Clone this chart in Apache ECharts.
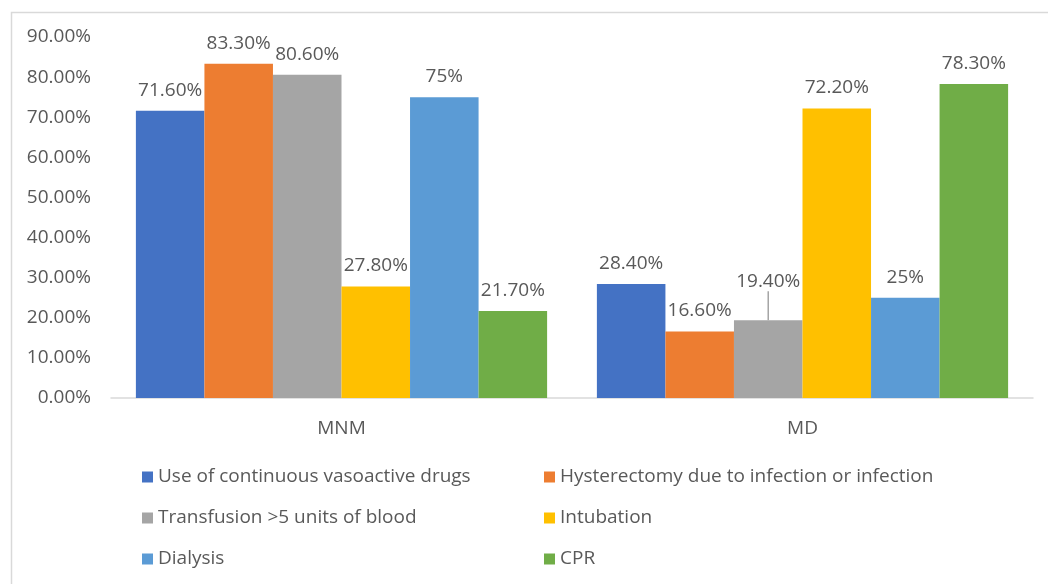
<!DOCTYPE html>
<html>
<head>
<meta charset="utf-8">
<script src="https://cdn.jsdelivr.net/npm/echarts@6/dist/echarts.min.js"></script>
<style>
  html, body { margin: 0; padding: 0; background: #ffffff; }
  #chart { width: 1048px; height: 584px; }
</style>
</head>
<body>
<div id="chart"></div>
<script>
// Groups along the x axis
const categories = ['MNM', 'MD'];

// Criteria and their shares (%) in each group
const seriesNames = [
  'Use of continuous vasoactive drugs',
  'Hysterectomy due to infection or infection',
  'Transfusion >5 units of blood',
  'Intubation',
  'Dialysis',
  'CPR'
];
const vasoactive   = [71.6, 28.4];
const hysterectomy = [83.3, 16.6];
const transfusion  = [80.6, 19.4];
const intubation   = [27.8, 72.2];
const dialysis     = [75, 25];
const cpr          = [21.7, 78.3];

// Decimal places shown in each series' value labels
const labelDecimals = [2, 2, 2, 2, 0, 2];

// Value axis ticks
const yMin = 0;
const yMax = 90;
const yStep = 10;

const seriesValues = [vasoactive, hysterectomy, transfusion, intubation, dialysis, cpr];
const colors = ['#4472C4', '#ED7D31', '#A5A5A5', '#FFC000', '#5B9BD5', '#70AD47'];
const fontFamily = '"Open Sans", "Noto Sans", sans-serif';
const textColor = '#595959';
const fontSize = 19;

const chart = echarts.init(document.getElementById('chart'), null, { renderer: 'canvas' });

// The transfusion label in the MD group sits higher, tied to its bar by a leader line
const isRaised = (s, d) => s === 2 && d === 1;

const series = seriesValues.map((vals, i) => ({
  name: seriesNames[i],
  type: 'bar',
  data: vals.map((v, d) => isRaised(i, d)
    ? { value: v, labelLine: { show: true, lineStyle: { color: '#A5A5A5', width: 1.5 } } }
    : { value: v, labelLine: { show: false } }),
  barGap: '0%',
  barCategoryGap: '10.8%',
  itemStyle: { color: colors[i] },
  label: {
    show: true,
    position: 'top',
    distance: 11,
    color: textColor,
    fontFamily: fontFamily,
    fontSize: fontSize,
    formatter: p => p.value.toFixed(labelDecimals[i]) + '%'
  },
  labelLine: { show: false },
  labelLayout: p => isRaised(p.seriesIndex, p.dataIndex) ? { dy: -18 } : {}
}));

const legendText = { color: textColor, fontFamily: fontFamily, fontSize: fontSize, lineHeight: 20 };

chart.setOption({
  animation: false,
  backgroundColor: '#ffffff',
  graphic: [{
    type: 'rect',
    left: 9, top: 10,
    shape: { x: 0, y: 0, width: 1100, height: 700 },
    style: { fill: 'none', stroke: '#D9D9D9', lineWidth: 1.5 },
    silent: true
  }],
  grid: { left: 111, right: 15, top: 37, bottom: 186 },
  legend: [
    {
      orient: 'vertical',
      left: 137, top: 462,
      itemWidth: 11, itemHeight: 11, itemGap: 21,
      icon: 'rect',
      textStyle: legendText,
      data: [seriesNames[0], seriesNames[2], seriesNames[4]]
    },
    {
      orient: 'vertical',
      left: 539, top: 462,
      itemWidth: 11, itemHeight: 11, itemGap: 21,
      icon: 'rect',
      textStyle: legendText,
      data: [seriesNames[1], seriesNames[3], seriesNames[5]]
    }
  ],
  xAxis: {
    type: 'category',
    data: categories,
    axisLine: { lineStyle: { color: '#D9D9D9', width: 1.5 } },
    axisTick: { show: false },
    axisLabel: { color: textColor, fontFamily: fontFamily, fontSize: fontSize, margin: 21 }
  },
  yAxis: {
    type: 'value',
    min: yMin, max: yMax, interval: yStep,
    axisLine: { show: false },
    axisTick: { show: false },
    splitLine: { show: false },
    axisLabel: {
      color: textColor, fontFamily: fontFamily, fontSize: fontSize, margin: 20,
      formatter: v => v.toFixed(2) + '%'
    }
  },
  series: series
});
</script>
</body>
</html>
